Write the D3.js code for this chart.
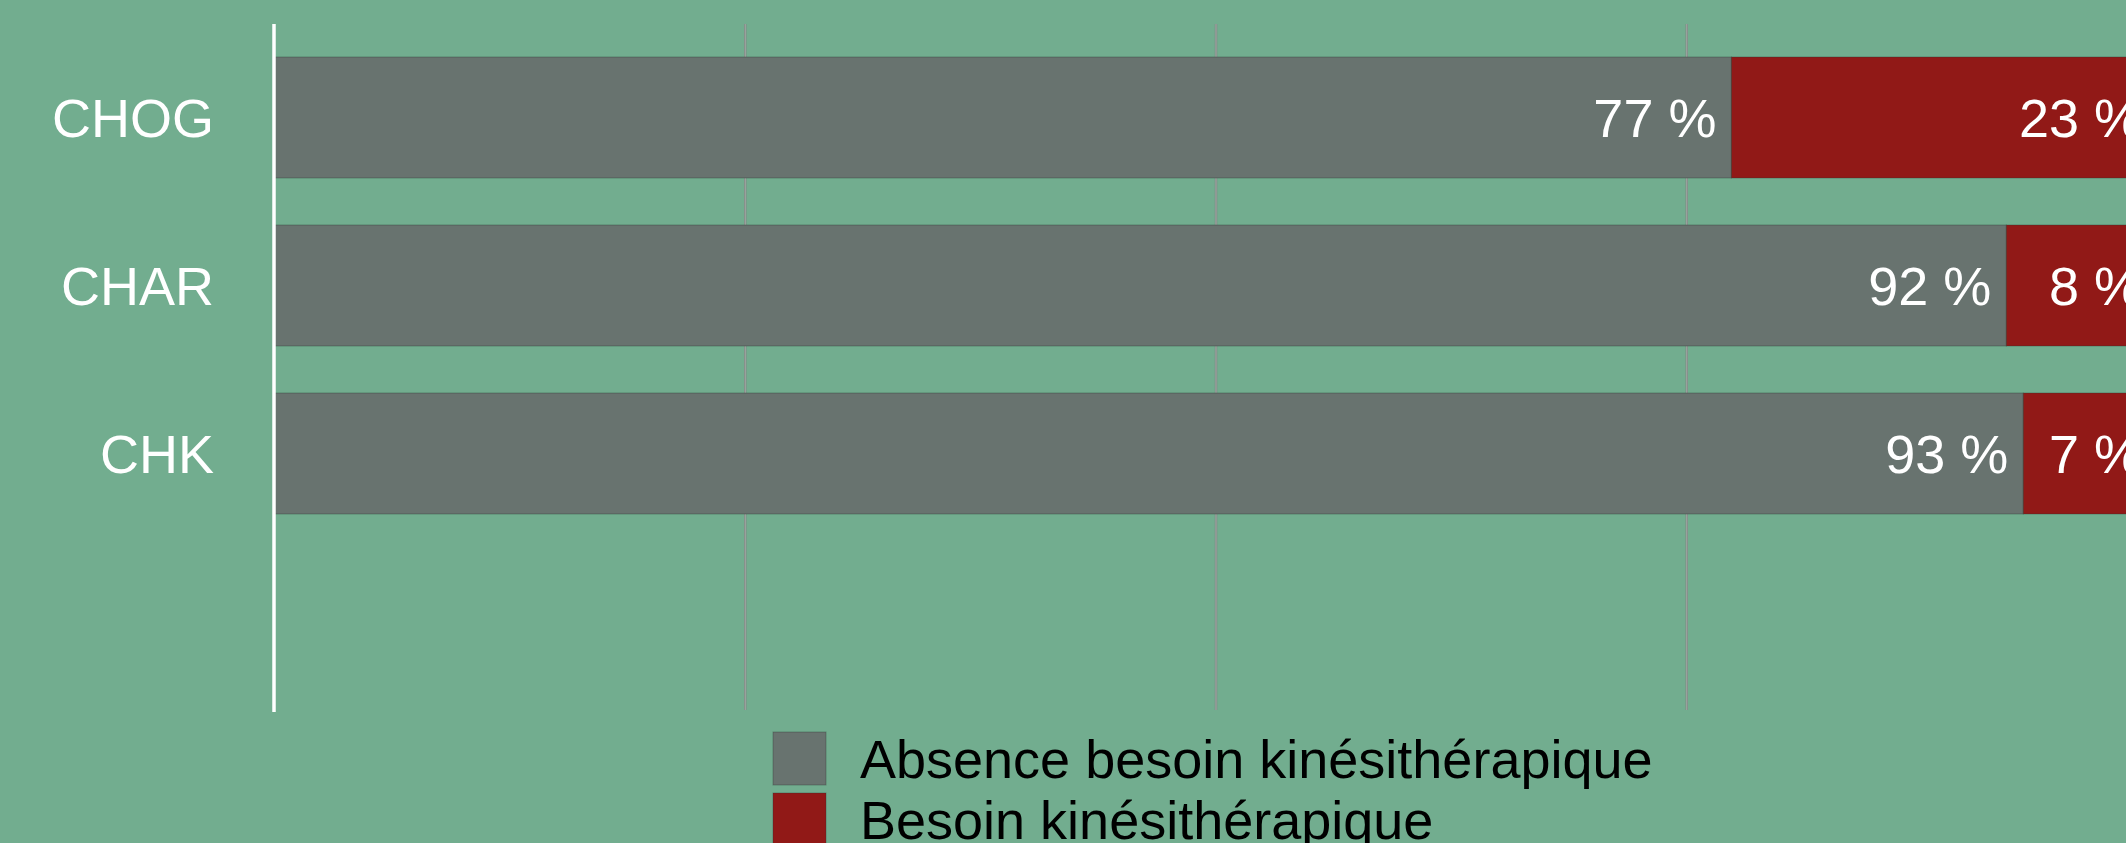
<!DOCTYPE html>
<html>
<head>
<meta charset="utf-8">
<script src="https://cdn.jsdelivr.net/npm/d3@7"></script>
<style>
  html, body { margin: 0; padding: 0; background: #72ad8f; overflow: hidden; }
  text { font-family: "Liberation Sans", Arial, Helvetica, sans-serif; }
</style>
</head>
<body>
<svg id="chart" width="2126" height="843"></svg>
<script>
// data (percentages)
const categories = ["CHOG", "CHAR", "CHK"];
const absence = [77.4, 92.0, 92.9];
const besoin = [22.6, 8.0, 7.1];
const seriesNames = ["Absence besoin kinésithérapique", "Besoin kinésithérapique"];
const gridTicks = [25, 50, 75, 100];

const colors = ["#68736f", "#911917"];

const svg = d3.select("#chart");
const plotTop = 24, plotBottom = 710;

const x = d3.scaleLinear().domain([0, 100]).range([274, 2157]);
const y = d3.scaleBand()
  .domain(categories)
  .range([33.5, 537.5])
  .paddingInner(0.28)
  .paddingOuter(0.14);

const rows = categories.map((c, i) => ({ cat: c, absence: absence[i], besoin: besoin[i] }));
const stacked = d3.stack().keys(["absence", "besoin"])(rows);

// grid lines
const grid = svg.append("g")
  .attr("transform", "translate(0," + plotBottom + ")")
  .call(d3.axisBottom(x).tickValues(gridTicks).tickSize(-(plotBottom - plotTop)).tickFormat(""));
grid.select(".domain").remove();
grid.selectAll(".tick line").attr("stroke", "#7d8983").attr("stroke-width", 2.5);
grid.selectAll(".tick").append("line")
  .attr("y2", -(plotBottom - plotTop))
  .attr("stroke", "#a3aaa6")
  .attr("stroke-width", 1);

// bars
const layers = svg.append("g").selectAll("g")
  .data(stacked)
  .join("g")
  .attr("fill", (d, i) => colors[i]);

layers.selectAll("rect")
  .data(d => d)
  .join("rect")
  .attr("x", d => x(d[0]))
  .attr("y", d => y(d.data.cat))
  .attr("width", d => x(d[1]) - x(d[0]))
  .attr("height", y.bandwidth())
  .attr("stroke", "rgba(40,50,45,0.35)")
  .attr("stroke-width", 1);

// value labels
layers.selectAll("text")
  .data(d => d.map(p => ({ p: p, key: d.key })))
  .join("text")
  .attr("x", d => x(d.p[1]) - 15)
  .attr("y", d => y(d.p.data.cat) + y.bandwidth() / 2)
  .attr("dy", "0.36em")
  .attr("text-anchor", "end")
  .attr("fill", "#ffffff")
  .attr("font-size", 54)
  .text(d => Math.round(d.p.data[d.key]) + " %");

// category axis
const yAxis = svg.append("g")
  .attr("transform", "translate(214,0)")
  .call(d3.axisLeft(y).tickSize(0).tickPadding(0));
yAxis.select(".domain").remove();
yAxis.selectAll("text")
  .attr("fill", "#ffffff")
  .attr("font-size", 54)
  .attr("dy", "0.36em");

svg.append("line")
  .attr("x1", x(0)).attr("x2", x(0))
  .attr("y1", plotTop).attr("y2", plotBottom + 2)
  .attr("stroke", "#ffffff")
  .attr("stroke-width", 3.5);

// legend
const legend = svg.append("g").selectAll("g")
  .data(seriesNames)
  .join("g")
  .attr("transform", (d, i) => "translate(773," + (732 + i * 61) + ")");

legend.append("rect")
  .attr("width", 53)
  .attr("height", 53)
  .attr("fill", (d, i) => colors[i])
  .attr("stroke", "rgba(40,50,45,0.35)");

legend.append("text")
  .attr("x", 87)
  .attr("y", 26.5)
  .attr("dy", "0.36em")
  .attr("font-size", 54)
  .attr("fill", "#000000")
  .text(d => d);
</script>
</body>
</html>
